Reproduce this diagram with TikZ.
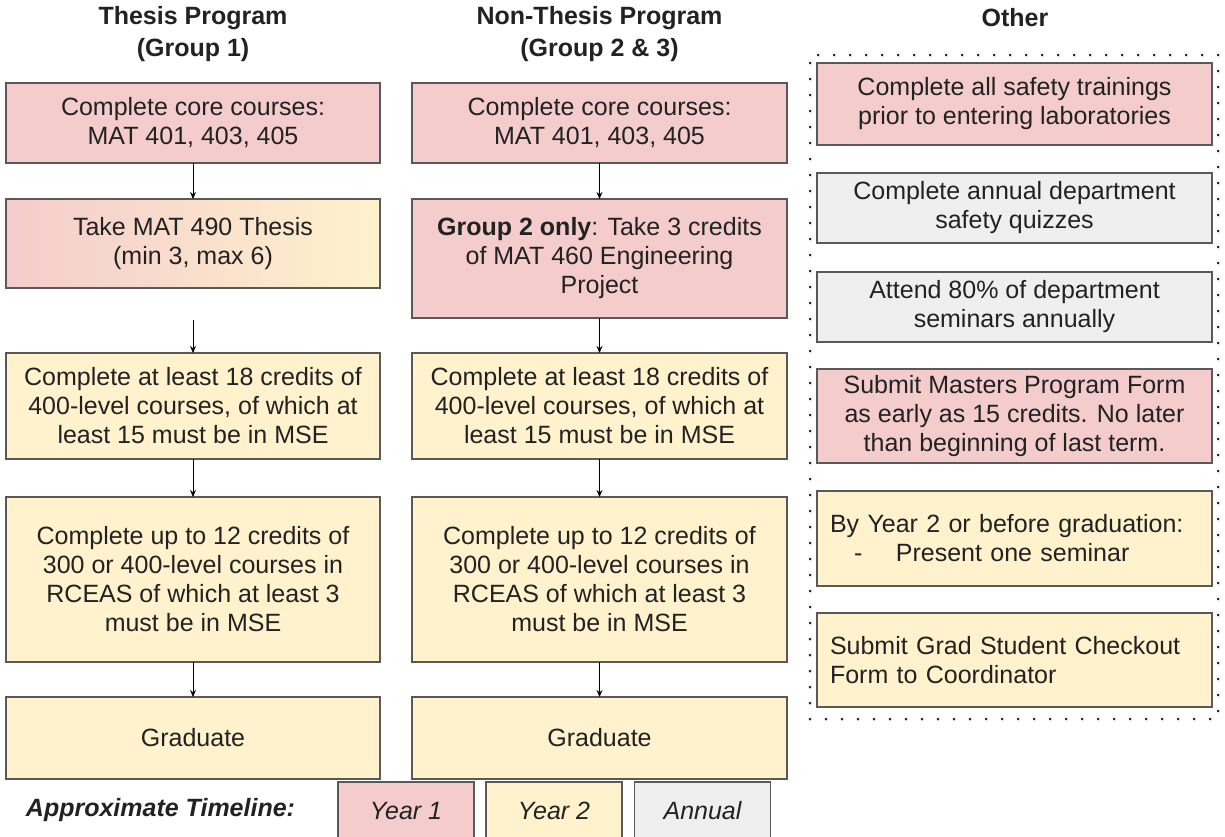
\documentclass[tikz,border=0pt]{standalone}
\usepackage{fontspec}
\setmainfont{Liberation Sans}
\usetikzlibrary{arrows.meta}
\definecolor{pinkc}{HTML}{F4CCCC}
\definecolor{yelc}{HTML}{FFF2CC}
\definecolor{grayc}{HTML}{EFEFEF}
\definecolor{edgec}{HTML}{595959}
\definecolor{txtc}{HTML}{222222}
\begin{document}
\begin{tikzpicture}[x=0.5pt,y=-0.5pt,
  bx/.style={draw=edgec, line width=0.75pt, inner sep=0pt, outer sep=0pt, align=center, text=txtc, font=\fontsize{12.5}{14.5}\selectfont},
  lcol/.style={bx, minimum width=187pt},
  rcol/.style={bx, minimum width=187.5pt},
  ocol/.style={bx, minimum width=197.5pt},
  lbox/.style={bx, minimum width=68pt, minimum height=29pt, font=\fontsize{12.5}{14.5}\itshape\selectfont},
  hdr/.style={align=center, font=\fontsize{12.5}{16}\bfseries\selectfont, text=txtc, inner sep=0pt},
  arr/.style={-{Stealth[length=3.5pt,width=3pt]}, line width=0.5pt, black},
  frame/.style={draw=black!85, line width=1.5pt, dash pattern=on 0pt off 8pt, line cap=round, inner sep=0pt, minimum width=204pt, minimum height=332pt}
  ]
\useasboundingbox (0,0) rectangle (1225,836);

% headers
\node[hdr] (h1) at (193,34) {Thesis Program\\(Group 1)};
\node[hdr] (h2) at (599.5,34) {Non-Thesis Program\\(Group 2 \& 3)};
\node[hdr] (h3) at (1015,18) {Other};

% left column
\node[lcol, fill=pinkc, minimum height=40pt] (l1) at (193,123) {Complete core courses:\\MAT 401, 403, 405};
\node[lcol, left color=pinkc, right color=yelc, minimum height=44.5pt] (l2) at (193,243.5) {Take MAT 490 Thesis\\(min 3, max 6)};
\coordinate (l2out) at (193,320);
\node[lcol, fill=yelc, minimum height=53pt] (l3) at (193,406) {Complete at least 18 credits of\\400-level courses, of which at\\least 15 must be in MSE};
\node[lcol, fill=yelc, minimum height=82.5pt] (l4) at (193,579.5) {Complete up to 12 credits of\\300 or 400-level courses in\\RCEAS of which at least 3\\must be in MSE};
\node[lcol, fill=yelc, minimum height=41pt] (l5) at (193,738) {Graduate};

\draw[arr] (l1.south) -- (l2.north);
\draw[arr] (l2out) -- (l3.north);
\draw[arr] (l3.south) -- (l4.north);
\draw[arr] (l4.south) -- (l5.north);

% right column
\node[rcol, fill=pinkc, minimum height=40pt] (r1) at (599.5,123) {Complete core courses:\\MAT 401, 403, 405};
\node[rcol, fill=pinkc, minimum height=59.5pt] (r2) at (599.5,258.5) {\textbf{Group 2 only}: Take 3 credits\\of MAT 460 Engineering\\Project};
\node[rcol, fill=yelc, minimum height=53pt] (r3) at (599.5,406) {Complete at least 18 credits of\\400-level courses, of which at\\least 15 must be in MSE};
\node[rcol, fill=yelc, minimum height=82.5pt] (r4) at (599.5,579.5) {Complete up to 12 credits of\\300 or 400-level courses in\\RCEAS of which at least 3\\must be in MSE};
\node[rcol, fill=yelc, minimum height=41pt] (r5) at (599.5,738) {Graduate};

\draw[arr] (r1.south) -- (r2.north);
\draw[arr] (r2.south) -- (r3.north);
\draw[arr] (r3.south) -- (r4.north);
\draw[arr] (r4.south) -- (r5.north);

% other column
\node[frame] (fr) at (1014,387) {};
\node[ocol, fill=pinkc, minimum height=41pt] (o1) at (1014.5,104) {Complete all safety trainings\\prior to entering laboratories};
\node[ocol, fill=grayc, minimum height=35pt] (o2) at (1014.5,208) {Complete annual department\\safety quizzes};
\node[ocol, fill=grayc, minimum height=35pt] (o3) at (1014.5,307) {Attend 80\% of department\\seminars annually};
\node[ocol, fill=pinkc, minimum height=47pt] (o4) at (1014.5,416) {Submit Masters Program Form\\as early as 15 credits. No later\\than beginning of last term.};
\node[ocol, fill=yelc, minimum height=47.5pt, align=left, text width=184.5pt, inner xsep=6.5pt] (o5) at (1014.5,538.5) {By Year 2 or before graduation:\\\hspace*{12pt}-\hspace*{16.8pt}Present one seminar};
\node[ocol, fill=yelc, minimum height=47pt, align=left, text width=184.5pt, inner xsep=6.5pt] (o6) at (1014.5,660) {Submit Grad Student Checkout\\Form to Coordinator};

% legend
\node[font=\fontsize{12.5}{14.5}\bfseries\itshape\selectfont, text=txtc, inner sep=0pt] (lt) at (160.5,810) {Approximate Timeline:};
\node[lbox, fill=pinkc] (y1) at (406,811) {Year 1};
\node[lbox, fill=yelc] (y2) at (554,811) {Year 2};
\node[lbox, fill=grayc] (y3) at (702.5,811) {Annual};
\end{tikzpicture}
\end{document}
